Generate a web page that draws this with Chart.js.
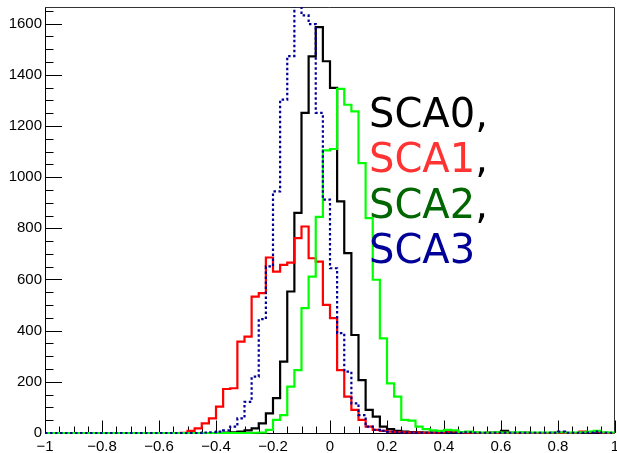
<!DOCTYPE html>
<html>
<head>
<meta charset="utf-8">
<script src="https://cdn.jsdelivr.net/npm/chart.js@4.4.1/dist/chart.umd.min.js"></script>
<style>
  html, body { margin: 0; padding: 0; background: #ffffff; }
  #wrap { width: 617px; height: 453px; position: relative; }
</style>
</head>
<body>
<div id="wrap"><canvas id="c" width="617" height="453"></canvas></div>
<script>
// ---- histogram binning (80 bins from -1 to 1) ----
const xMin = -1;
const xMax = 1;
const nBins = 80;

// ---- series values (counts per bin) ----
const sca0 = [
  0,0,0,0,0,0,0,0,0,0,
  0,0,0,0,0,0,0,0,0,0,
  0,0,0,0,1,2,3,5,10,18,
  38,77,136,279,553,860,1251,1472,1586,1453,
  1349,905,703,383,207,90,64,25,15,8,
  5,4,3,2,2,1,2,1,1,0,
  1,0,1,2,8,1,0,1,0,0,
  0,1,0,0,0,0,1,0,0,0
];
const sca1 = [
  0,0,0,0,0,0,0,0,0,0,
  0,0,0,0,0,0,0,0,0,1,
  8,18,38,57,103,172,175,357,377,533,
  547,686,631,657,666,762,807,683,670,501,
  449,246,142,90,51,25,12,8,5,4,
  3,2,2,1,1,2,5,5,2,1,
  1,0,1,0,1,0,0,1,0,0,
  0,0,1,0,0,5,3,4,1,0
];
const sca2 = [
  0,0,0,0,0,0,0,0,0,0,
  0,0,0,0,0,0,0,0,0,0,
  0,0,0,0,0,0,0,0,0,1,
  2,12,51,70,181,246,488,611,845,1105,
  1110,1345,1283,1257,1055,840,599,370,194,142,
  51,48,25,15,10,8,12,10,4,5,
  3,2,2,3,2,2,3,2,2,2,
  2,2,3,2,2,3,5,8,3,2
];
const sca3 = [
  0,0,0,0,0,0,0,0,0,0,
  0,0,0,0,0,0,0,0,0,0,
  0,0,2,3,5,10,25,57,122,220,
  445,651,944,1303,1473,1700,1632,1598,1251,912,
  644,390,240,116,70,25,12,8,5,3,
  2,2,1,1,1,1,2,1,1,3,
  1,1,1,1,1,1,1,1,1,1,
  1,1,5,1,1,1,2,5,1,1
];

// ---- axis ticks ----
const xTickValues = [-1, -0.8, -0.6, -0.4, -0.2, 0, 0.2, 0.4, 0.6, 0.8, 1];
const xTickLabels = ['\u22121', '\u22120.8', '\u22120.6', '\u22120.4', '\u22120.2', '0', '0.2', '0.4', '0.6', '0.8', '1'];
const yTickValues = [0, 200, 400, 600, 800, 1000, 1200, 1400, 1600];
const yTickLabels = ['0', '200', '400', '600', '800', '1000', '1200', '1400', '1600'];
const yMax = 1665;
const xMinorStep = 0.05;
const yMinorStep = 50;

// ---- legend text ----
const legendLabels = ['SCA0', 'SCA1', 'SCA2', 'SCA3'];
const legendSeparators = [',', ',', ',', ''];
const legendColors = ['#000000', '#ff3333', '#006600', '#000099'];
const lineColors = ['#000000', '#ff0000', '#00ff00', '#000099'];

// build step points at bin low edges (+ final upper edge)
function histPoints(vals) {
  const w = (xMax - xMin) / nBins;
  const pts = vals.map((v, i) => ({ x: xMin + i * w, y: v }));
  pts.push({ x: xMax, y: vals[vals.length - 1] });
  return pts;
}

const rootFrame = {
  id: 'rootFrame',
  beforeDatasetsDraw(chart) {
    const { ctx, chartArea: a, scales: { x, y } } = chart;
    ctx.save();
    ctx.strokeStyle = '#000';
    ctx.lineWidth = 1;
    ctx.beginPath();
    const nx = Math.round((xMax - xMin) / xMinorStep);
    for (let i = 0; i <= nx; i++) {
      const v = xMin + i * xMinorStep;
      const major = i % 4 === 0;
      const px = Math.round(x.getPixelForValue(v)) + 0.5;
      ctx.moveTo(px, a.bottom);
      ctx.lineTo(px, a.bottom - (major ? 12.5 : 6.5));
    }
    for (let v = 0; v <= yMax; v += yMinorStep) {
      const major = v % 200 === 0;
      const py = Math.round(y.getPixelForValue(v)) + 0.5;
      ctx.moveTo(a.left, py);
      ctx.lineTo(a.left + (major ? 17 : 8.5), py);
    }
    ctx.stroke();
    ctx.beginPath();
    ctx.moveTo(a.left + 0.5, a.top);
    ctx.lineTo(a.left + 0.5, a.bottom + 0.5);
    ctx.lineTo(a.right, a.bottom + 0.5);
    ctx.stroke();
    ctx.strokeStyle = '#333';
    ctx.beginPath();
    ctx.moveTo(a.left, a.top + 0.5);
    ctx.lineTo(a.right - 0.5, a.top + 0.5);
    ctx.lineTo(a.right - 0.5, a.bottom);
    ctx.stroke();
    ctx.restore();
  },
  afterDatasetsDraw(chart) {
    const { ctx } = chart;
    ctx.save();
    ctx.font = '40px "DejaVu Sans"';
    ctx.textBaseline = 'alphabetic';
    ctx.textAlign = 'left';
    const x0 = 369;
    const baselines = [127, 172, 218, 263];
    legendLabels.forEach((t, i) => {
      ctx.fillStyle = legendColors[i];
      ctx.fillText(t, x0, baselines[i]);
      const w = ctx.measureText(t).width;
      ctx.fillStyle = '#000';
      ctx.fillText(legendSeparators[i], x0 + w, baselines[i]);
    });
    ctx.restore();
  }
};

const series = [sca0, sca1, sca2, sca3];
const datasets = series.map((vals, i) => ({
  label: legendLabels[i],
  data: histPoints(vals),
  borderColor: lineColors[i],
  backgroundColor: lineColors[i],
  borderWidth: 2.2,
  borderDash: i === 3 ? [2.5, 2.5] : [],
  stepped: 'before',
  pointRadius: 0,
  fill: false,
  tension: 0,
  order: 3 - i,
  clip: { left: 2, right: 2, top: 0, bottom: 3 }
}));

const tickFont = { family: '"Liberation Sans", Arial, sans-serif', size: 15 };

new Chart(document.getElementById('c'), {
  type: 'line',
  data: { datasets },
  plugins: [rootFrame],
  options: {
    responsive: false,
    animation: false,
    devicePixelRatio: 1,
    layout: { padding: { top: 7, right: 2, left: 0, bottom: 0 } },
    plugins: { legend: { display: false }, tooltip: { enabled: false } },
    scales: {
      x: {
        type: 'linear', min: xMin, max: xMax,
        afterBuildTicks: s => { s.ticks = xTickValues.map(v => ({ value: v })); },
        afterFit: s => { s.height = 20; s.paddingLeft = 0; s.paddingRight = 0; },
        grid: { display: false, drawTicks: false },
        border: { display: false },
        ticks: {
          autoSkip: false, maxRotation: 0, minRotation: 0, padding: 5,
          color: '#000', font: tickFont,
          callback: (v) => xTickLabels[xTickValues.findIndex(t => Math.abs(t - v) < 1e-9)]
        }
      },
      y: {
        type: 'linear', min: 0, max: yMax,
        afterBuildTicks: s => { s.ticks = yTickValues.map(v => ({ value: v })); },
        afterFit: s => { s.width = 45; s.paddingTop = 0; s.paddingBottom = 0; },
        grid: { display: false, drawTicks: false },
        border: { display: false },
        ticks: {
          autoSkip: false, padding: 3,
          color: '#000', font: tickFont,
          callback: (v) => yTickLabels[yTickValues.indexOf(v)]
        }
      }
    }
  }
});
</script>
</body>
</html>
